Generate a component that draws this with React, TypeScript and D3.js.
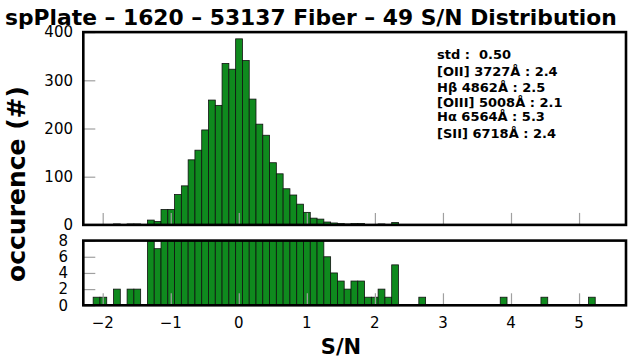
import React, { useEffect, useRef } from "react";
import * as d3 from "d3";

// histogram bins (S/N), left edge of first bin and bin width
const binStart = -2.14;
const binWidth = 0.0997;
const counts = [
  1, 1, 0, 2, 0, 2, 2, 0, 10, 7,
  32, 32, 63, 81, 135, 155, 197, 259, 248, 335,
  323, 386, 341, 261, 209, 186, 129, 106, 75, 62,
  43, 26, 14, 12, 6, 4, 3, 2, 3, 3,
  1, 1, 2, 1, 5, 0, 0, 0, 1, 0,
  0, 0, 0, 0, 0, 0, 0, 0, 0, 0,
  1, 0, 0, 0, 0, 0, 1, 0, 0, 0,
  0, 0, 0, 1,
];

const xTicks = [-2, -1, 0, 1, 2, 3, 4, 5];
const topTicks = [0, 100, 200, 300, 400];
const bottomTicks = [0, 2, 4, 6, 8];

const title = "spPlate \u2013 1620 \u2013 53137 Fiber \u2013 49 S/N Distribution";
const infoLines = [
  "std :  0.50",
  "[OII] 3727\u00c5 : 2.4",
  "H\u03b2 4862\u00c5 : 2.5",
  "[OIII] 5008\u00c5 : 2.1",
  "H\u03b1 6564\u00c5 : 5.3",
  "[SII] 6718\u00c5 : 2.4",
];
const infoBaselines = [59, 76, 92, 107, 121, 138];

const W = 636;
const H = 364;
const FONT = "'DejaVu Sans', sans-serif";
const BAR_FILL = "#0f8a1e";

export default function App() {
  const svgRef = useRef<SVGSVGElement>(null);

  useEffect(() => {
    if (!svgRef.current) return;
    const svg = d3.select(svgRef.current);
    svg.selectAll("*").remove();

    const x = d3.scaleLinear().domain([-2.285, 5.69]).range([83.3, 626]);
    const yTop = d3.scaleLinear().domain([0, 400]).range([224.9, 32.1]);
    const yBot = d3.scaleLinear().domain([0, 8]).range([305.3, 240.6]);

    const bins = counts.map((c, i) => ({
      x0: binStart + i * binWidth,
      x1: binStart + (i + 1) * binWidth,
      c,
    }));

    svg
      .append("text")
      .attr("x", 5)
      .attr("y", 25)
      .attr("font-family", FONT)
      .attr("font-weight", "bold")
      .attr("font-size", 21.8)
      .text(title);

    const panels = [
      { y: yTop, ticks: topTicks, id: "clipTop", labelX: 73 },
      { y: yBot, ticks: bottomTicks, id: "clipBot", labelX: 68 },
    ];

    panels.forEach((p) => {
      const [y0, y1] = p.y.range();
      const [xa, xb] = x.range();

      svg
        .append("defs")
        .append("clipPath")
        .attr("id", p.id)
        .append("rect")
        .attr("x", xa)
        .attr("y", y1)
        .attr("width", xb - xa)
        .attr("height", y0 - y1);

      const g = svg.append("g").attr("clip-path", `url(#${p.id})`);
      g.selectAll("rect")
        .data(bins.filter((b) => b.c > 0))
        .join("rect")
        .attr("x", (d) => x(d.x0))
        .attr("y", (d) => p.y(d.c))
        .attr("width", (d) => x(d.x1) - x(d.x0))
        .attr("height", (d) => p.y(0) - p.y(d.c))
        .attr("fill", BAR_FILL)
        .attr("stroke", "#111")
        .attr("stroke-width", 0.8);

      // inward ticks, grey
      const yAxis = svg
        .append("g")
        .attr("transform", `translate(${xa},0)`)
        .call(
          d3
            .axisRight(p.y)
            .tickValues(p.ticks)
            .tickSize(12)
            .tickFormat(() => "") as any
        );
      yAxis.select(".domain").remove();
      yAxis.selectAll("line").attr("stroke", "#a0a0a0").attr("stroke-width", 1.2);

      const xAxis = svg
        .append("g")
        .attr("transform", `translate(0,${y0})`)
        .call(
          d3
            .axisTop(x)
            .tickValues(xTicks)
            .tickSize(12)
            .tickFormat(() => "") as any
        );
      xAxis.select(".domain").remove();
      xAxis.selectAll("line").attr("stroke", "#a0a0a0").attr("stroke-width", 1.2);

      svg
        .append("g")
        .selectAll("text")
        .data(p.ticks)
        .join("text")
        .attr("x", p.labelX)
        .attr("y", (d) => p.y(d) + 5.3)
        .attr("text-anchor", "end")
        .attr("font-family", FONT)
        .attr("font-size", 15)
        .text((d) => String(d));

      svg
        .append("rect")
        .attr("x", xa)
        .attr("y", y1)
        .attr("width", xb - xa)
        .attr("height", y0 - y1)
        .attr("fill", "none")
        .attr("stroke", "#000")
        .attr("stroke-width", 2.6);
    });

    svg
      .append("g")
      .selectAll("text")
      .data(xTicks)
      .join("text")
      .attr("x", (d) => x(d))
      .attr("y", 327.5)
      .attr("text-anchor", "middle")
      .attr("font-family", FONT)
      .attr("font-size", 15)
      .text((d) => (d < 0 ? "\u2212" + Math.abs(d) : String(d)));

    svg
      .append("text")
      .attr("x", 341)
      .attr("y", 354)
      .attr("text-anchor", "middle")
      .attr("font-family", FONT)
      .attr("font-weight", "bold")
      .attr("font-size", 21)
      .text("S/N");

    svg
      .append("text")
      .attr("transform", "translate(25,184) rotate(-90)")
      .attr("text-anchor", "middle")
      .attr("font-family", FONT)
      .attr("font-weight", "bold")
      .attr("font-size", 25)
      .text("occurence (#)");

    svg
      .append("g")
      .selectAll("text")
      .data(infoLines)
      .join("text")
      .attr("x", 437)
      .attr("y", (d, i) => infoBaselines[i])
      .attr("font-family", FONT)
      .attr("font-weight", "bold")
      .attr("font-size", 13)
      .attr("xml:space", "preserve")
      .style("white-space", "pre")
      .text((d) => d);
  }, []);

  return (
    <svg
      ref={svgRef}
      width={W}
      height={H}
      style={{ position: "absolute", left: 0, top: 0, background: "#fff" }}
    />
  );
}
